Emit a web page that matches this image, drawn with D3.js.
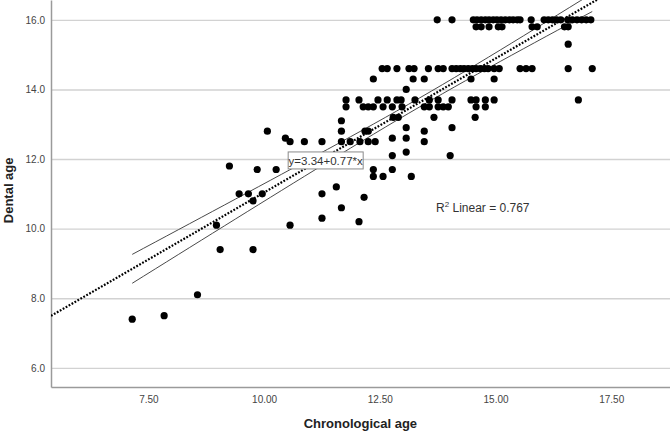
<!DOCTYPE html>
<html>
<head>
<meta charset="utf-8">
<script src="https://cdn.jsdelivr.net/npm/d3@7"></script>
<style>
  body { margin: 0; background: #fff; }
  svg { display: block; font-family: "Liberation Sans", Arial, sans-serif; }
</style>
</head>
<body>
<div id="chart"></div>
<script>
// dental age levels (rows) and the chronological ages found on each row
const dentalLevels = [16.0, 15.8, 15.3, 14.6, 14.3, 14.0, 13.7, 13.5, 13.2, 13.1, 12.9, 12.8, 12.6, 12.5,
  12.2, 12.1, 11.8, 11.7, 11.5, 11.2, 11.0, 10.9, 10.8, 10.6, 10.3, 10.2, 10.1, 9.4, 8.1, 7.5, 7.4];
const chronByLevel = [
  [13.74, 14.06, 14.52, 14.60, 14.69, 14.78, 14.86, 14.95, 15.03, 15.12, 15.21, 15.30, 15.38, 15.47, 15.53,
   15.77, 16.05, 16.14, 16.23, 16.32, 16.41, 16.56, 16.66, 16.76, 16.86, 16.96, 17.06],
  [14.58, 14.69, 14.86, 15.06, 15.14, 15.79, 15.90, 16.49, 16.57],
  [16.57],
  [12.55, 12.66, 12.87, 13.13, 13.24, 13.55, 13.76, 13.87, 14.06, 14.15, 14.24, 14.32, 14.41, 14.50,
   14.58, 14.67, 14.76, 14.84, 14.97, 15.08, 15.53, 15.66, 15.79, 16.57, 17.09],
  [12.36, 13.22, 13.46, 14.47, 14.97],
  [13.07],
  [11.77, 12.05, 12.46, 12.66, 12.87, 12.96, 13.26, 13.57, 13.76, 14.06, 14.47, 14.58, 14.78, 14.97, 16.79],
  [11.77, 12.14, 12.25, 12.36, 12.57, 12.77, 12.98, 13.46, 13.57, 13.76, 13.87, 13.98, 14.58, 14.78],
  [12.79, 12.90, 13.67, 14.56],
  [11.67],
  [13.07, 14.06],
  [10.07, 11.67, 12.18, 12.25, 13.46],
  [10.46, 12.77, 13.07],
  [10.56, 10.87, 11.25, 11.67, 11.86, 12.07, 12.25, 12.40, 13.46],
  [13.07],
  [12.77, 14.02],
  [9.25],
  [9.85, 10.26, 12.36, 12.77],
  [12.36, 12.57, 13.18],
  [11.56],
  [9.46, 9.66, 9.96, 11.25],
  [12.16],
  [9.76],
  [11.67],
  [11.25],
  [12.05],
  [8.97, 10.56],
  [9.05, 9.76],
  [8.56],
  [7.84],
  [7.15]
];

// fit from the chart label
const intercept = 3.34;
const slope = 0.77;
const rSquared = 0.767;

const xTicks = [7.5, 10, 12.5, 15, 17.5];
const yTicks = [6, 8, 10, 12, 14, 16];

const width = 670;
const height = 433;
const margin = { top: 0, right: 0, bottom: 46, left: 51 };

const points = [];
dentalLevels.forEach((lvl, i) => chronByLevel[i].forEach(x => points.push([x, lvl])));

const svg = d3.select("#chart").append("svg")
  .attr("width", width)
  .attr("height", height);

const xScale = d3.scaleLinear().domain([5.395, 18.77]).range([margin.left, width - margin.right]);
const yScale = d3.scaleLinear().domain([5.45, 16.57]).range([height - margin.bottom, margin.top]);

// grid lines
svg.append("g")
  .attr("class", "grid")
  .attr("transform", `translate(${margin.left},0)`)
  .call(d3.axisLeft(yScale).tickValues(yTicks).tickSize(-(width - margin.left - margin.right)).tickFormat(""))
  .call(g => g.select(".domain").remove())
  .call(g => g.selectAll("line").attr("stroke", "#d2d2d2").attr("stroke-width", 1.4));

// axes
const yAxis = svg.append("g")
  .attr("transform", `translate(${margin.left},0)`)
  .call(d3.axisLeft(yScale).tickValues(yTicks).tickSize(0).tickPadding(6).tickFormat(d3.format(".1f")));
const xAxis = svg.append("g")
  .attr("transform", `translate(0,${height - margin.bottom})`)
  .call(d3.axisBottom(xScale).tickValues(xTicks).tickSize(0).tickPadding(9).tickFormat(d3.format(".2f")));
[yAxis, xAxis].forEach(g => {
  g.select(".domain").attr("stroke", "#9a9a9a").attr("stroke-width", 1.5);
  g.selectAll("text").attr("fill", "#444").style("font-size", "10px").style("font-family", "inherit");
});

// clip for lines
svg.append("clipPath").attr("id", "plotClip")
  .append("rect")
  .attr("x", margin.left).attr("y", margin.top)
  .attr("width", width - margin.left - margin.right)
  .attr("height", height - margin.bottom - margin.top);

// confidence band for the mean, from the points
const n = points.length;
const xMean = d3.mean(points, d => d[0]);
const sxx = d3.sum(points, d => (d[0] - xMean) ** 2);
const sse = d3.sum(points, d => (d[1] - (intercept + slope * d[0])) ** 2);
const se = Math.sqrt(sse / (n - 2));
const tCrit = 1.6;
const xMin = d3.min(points, d => d[0]);
const xMax = d3.max(points, d => d[0]);
const ciX = d3.range(0, 41).map(i => xMin + (xMax - xMin) * i / 40);
const half = x => tCrit * se * Math.sqrt(1 / n + (x - xMean) ** 2 / sxx);

const line = d3.line().x(d => xScale(d[0])).y(d => yScale(d[1]));
const lines = svg.append("g").attr("clip-path", "url(#plotClip)");
[1, -1].forEach(sign => {
  lines.append("path")
    .datum(ciX.map(x => [x, intercept + slope * x + sign * half(x)]))
    .attr("d", line)
    .attr("fill", "none")
    .attr("stroke", "#4a4a4a")
    .attr("stroke-width", 1);
});
const xDom = xScale.domain();
lines.append("path")
  .datum(xDom.map(x => [x, intercept + slope * x]))
  .attr("d", line)
  .attr("fill", "none")
  .attr("stroke", "#000")
  .attr("stroke-width", 2.2)
  .attr("stroke-dasharray", "1.8,1.6");

// points
svg.append("g")
  .selectAll("circle")
  .data(points)
  .join("circle")
  .attr("cx", d => xScale(d[0]))
  .attr("cy", d => yScale(d[1]))
  .attr("r", 3.6)
  .attr("fill", "#000");

// equation label
const eq = svg.append("g").attr("transform", `translate(${xScale(11.33)},${yScale(11.96)})`);
eq.append("rect")
  .attr("x", -37.5).attr("y", -8.5)
  .attr("width", 75).attr("height", 17)
  .attr("fill", "#fff")
  .attr("stroke", "#8a8a8a")
  .attr("stroke-width", 1);
eq.append("text")
  .attr("text-anchor", "middle")
  .attr("dy", "0.36em")
  .attr("fill", "#333")
  .style("font-size", "11.5px")
  .text(`y=${intercept}+${slope}*x`);

// R squared
const r2 = svg.append("text")
  .attr("x", 436)
  .attr("y", 212)
  .attr("fill", "#333")
  .style("font-size", "12px");
r2.append("tspan").text("R");
r2.append("tspan").attr("dy", -5).style("font-size", "8px").text("2");
r2.append("tspan").attr("dy", 5).text(` Linear = ${rSquared}`);

// axis titles
svg.append("text")
  .attr("x", xScale(12.08))
  .attr("y", 428)
  .attr("text-anchor", "middle")
  .attr("fill", "#222")
  .style("font-size", "13px")
  .style("font-weight", "bold")
  .text("Chronological age");

svg.append("text")
  .attr("transform", `translate(13,${yScale(11.1)}) rotate(-90)`)
  .attr("text-anchor", "middle")
  .attr("fill", "#222")
  .style("font-size", "13px")
  .style("font-weight", "bold")
  .text("Dental age");
</script>
</body>
</html>
